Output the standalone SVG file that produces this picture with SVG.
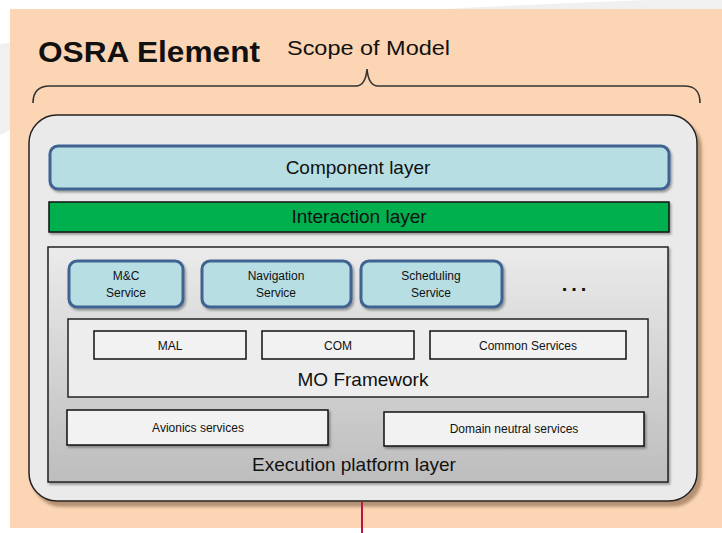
<svg xmlns="http://www.w3.org/2000/svg" width="722" height="533" viewBox="0 0 722 533">
<defs>
<style>
.t{font-family:"Liberation Sans",Arial,sans-serif;fill:#111;text-anchor:middle}
.lab{font-size:19px}
.sm{font-size:12px}
.svc{fill:#B7DEE3;stroke:#3F6391;stroke-width:3}
.wb{fill:#F2F2F2;stroke:#111;stroke-width:1.5}
</style>
<linearGradient id="gExec" x1="0" y1="0" x2="0" y2="1">
<stop offset="0" stop-color="#EBEBEB"/>
<stop offset="1" stop-color="#BDBDBD"/>
</linearGradient>
<filter id="shOuter" x="-5%" y="-5%" width="110%" height="115%">
<feDropShadow dx="4" dy="5" stdDeviation="1.5" flood-color="#7a5a40" flood-opacity="0.55"/>
</filter>
<filter id="sh" x="-5%" y="-10%" width="110%" height="130%">
<feDropShadow dx="1.5" dy="2" stdDeviation="1" flood-color="#000" flood-opacity="0.35"/>
</filter>
</defs>
<rect x="0" y="0" width="722" height="533" fill="#FFFFFF"/>
<path d="M0,44 C200,22 420,8 650,0 L722,0 L722,9 L10,9 L10,130 L0,135 Z" fill="#F0F0F0"/>
<rect x="10" y="9" width="712" height="519" fill="#FCD5B4"/>

<g id="title">
<text x="38" y="62" font-family="Liberation Sans,Arial,sans-serif" font-weight="bold" font-size="30" fill="#111" textLength="222" lengthAdjust="spacingAndGlyphs">OSRA Element</text>
<text x="287" y="55" font-family="Liberation Sans,Arial,sans-serif" font-size="21" fill="#111" textLength="163" lengthAdjust="spacingAndGlyphs">Scope of Model</text>
</g>
<g id="brace">
<path d="M33,103 C33,92 38,86 50,86 L356,86 C362,86 366,80 367,69 C368,80 372,86 378,86 L684,86 C696,86 700,92 700,103" fill="none" stroke="#333" stroke-width="1.6"/>
</g>

<g id="osra-element">
<rect x="29" y="115" width="668" height="386" rx="28" fill="#EAEAEA" stroke="#222" stroke-width="1.5" filter="url(#shOuter)"/>
</g>

<g id="component-layer">
<rect x="50" y="146" width="619" height="43" rx="8" class="svc" filter="url(#sh)"/>
<text x="358" y="174" class="t lab">Component layer</text>
</g>

<g id="interaction-layer">
<rect x="49" y="202" width="620" height="30" fill="#00B050" stroke="#111" stroke-width="1.5" filter="url(#sh)"/>
<text x="359" y="223" class="t lab">Interaction layer</text>
</g>

<g id="execution-platform-layer">
<rect x="48" y="247" width="620" height="235" fill="url(#gExec)" stroke="#222" stroke-width="1.5" filter="url(#sh)"/>
<text x="354" y="471" class="t lab">Execution platform layer</text>
</g>

<g id="mc-service">
<rect x="69" y="261" width="114" height="46" rx="8" class="svc" filter="url(#sh)"/>
<text x="126" y="280" class="t sm">M&amp;C</text>
<text x="126" y="297" class="t sm">Service</text>
</g>
<g id="navigation-service">
<rect x="202" y="261" width="149" height="46" rx="8" class="svc" filter="url(#sh)"/>
<text x="276" y="280" class="t sm">Navigation</text>
<text x="276" y="297" class="t sm">Service</text>
</g>
<g id="scheduling-service">
<rect x="361" y="261" width="141" height="46" rx="8" class="svc" filter="url(#sh)"/>
<text x="431" y="280" class="t sm">Scheduling</text>
<text x="431" y="297" class="t sm">Service</text>
</g>
<g id="more-services">
<text x="576" y="291" class="t" font-size="20" font-weight="bold" letter-spacing="4">...</text>
</g>

<g id="mo-framework">
<rect x="68" y="319" width="580" height="78" fill="#EDEDED" stroke="#222" stroke-width="1.5"/>
<text x="363" y="386" class="t lab">MO Framework</text>
</g>
<g id="mal">
<rect x="94" y="331" width="152" height="28" class="wb"/>
<text x="170" y="350" class="t sm">MAL</text>
</g>
<g id="com">
<rect x="262" y="331" width="152" height="28" class="wb"/>
<text x="338" y="350" class="t sm">COM</text>
</g>
<g id="common-services">
<rect x="430" y="331" width="196" height="28" class="wb"/>
<text x="528" y="350" class="t sm">Common Services</text>
</g>

<g id="avionics-services">
<rect x="67" y="410" width="261" height="35" class="wb" filter="url(#sh)"/>
<text x="198" y="432" class="t sm">Avionics services</text>
</g>
<g id="domain-neutral-services">
<rect x="384" y="412" width="260" height="34" class="wb" filter="url(#sh)"/>
<text x="514" y="433" class="t sm">Domain neutral services</text>
</g>

<g id="connectors">
<line x1="362" y1="502" x2="362" y2="533" stroke="#C0143C" stroke-width="2"/>
</g>
</svg>
